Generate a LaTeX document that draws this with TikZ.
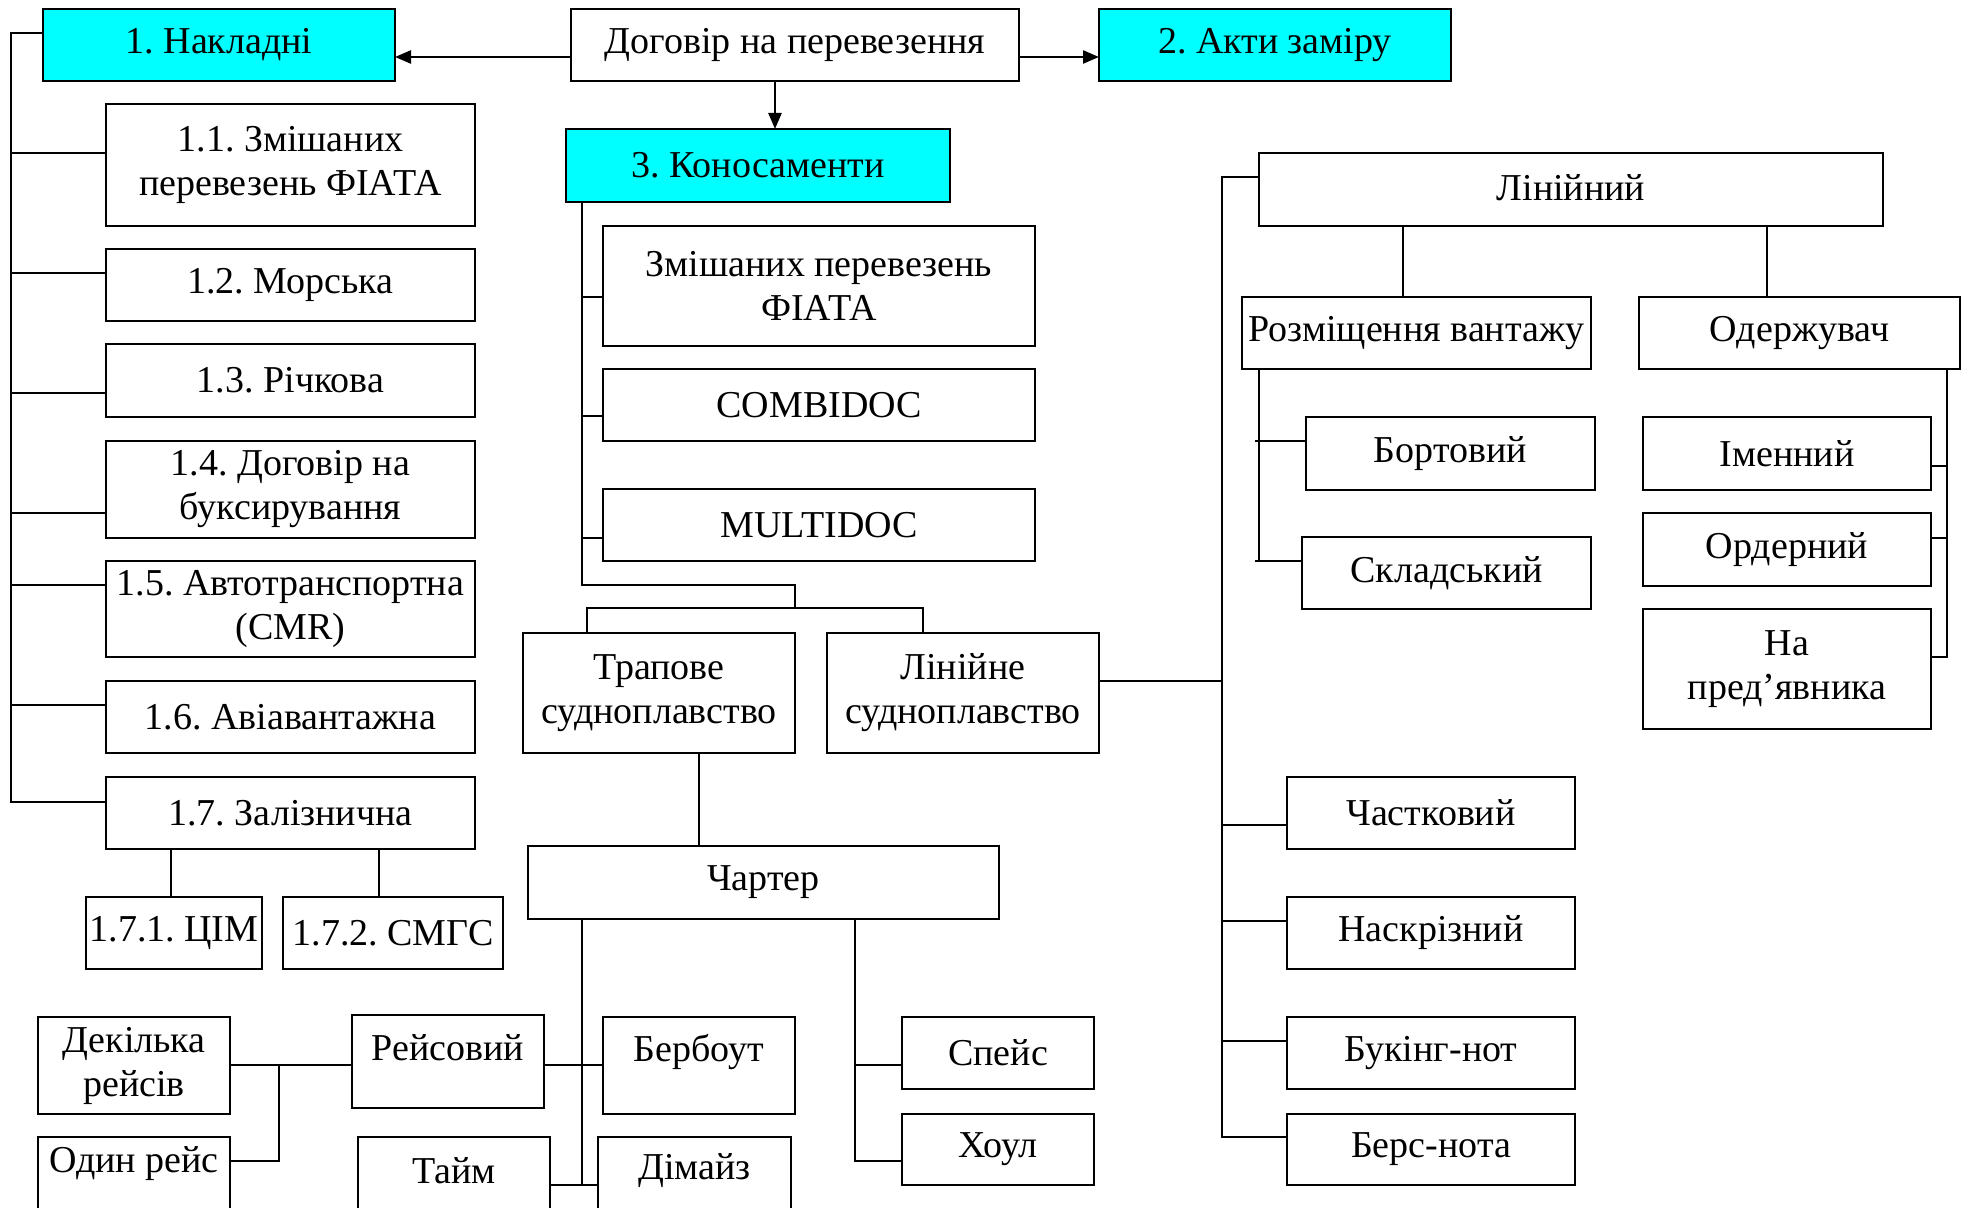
\documentclass[tikz,border=0pt]{standalone}
\usepackage{fontspec}
\setmainfont{Liberation Serif}
\usetikzlibrary{arrows.meta,calc}
\definecolor{keycyan}{RGB}{0,255,255}

% box from corner (x1,y1) to corner (x2,y2), in drawing units
\newcommand\docbox[7][]{%
  \node[box,minimum width={(#5-#3)*0.5pt},minimum height={(#6-#4)*0.5pt},#1]
    (#2) at ({(#3+#5)/2},{(#4+#6)/2}) {#7};}
% move a label up inside its box without changing the box
\newcommand\lift[2]{\raisebox{#1}[\height][\depth]{#2}}

\tikzset{
  box/.style={draw,line width=1.25pt,fill=white,inner sep=0pt,outer sep=0pt,
    align=center,font=\fontsize{19pt}{22pt}\selectfont\frenchspacing},
  keybox/.style={fill=keycyan},
  conn/.style={line width=1pt},
  arr/.style={line width=1.2pt,-{Triangle[length=8pt,width=6.5pt]}}
}

\begin{document}
\frenchspacing
\begin{tikzpicture}[x=0.5pt,y=-0.5pt]
\useasboundingbox (0,0) rectangle (1967,1208);
\clip (0,0) rectangle (1967,1208);

% top row
\docbox[keybox]{nakl}{43}{9}{395}{81}{1. Накладні}
\docbox{dog}{571}{9}{1019}{81}{Договір на перевезення}
\docbox[keybox]{akty}{1099}{9}{1451}{81}{2. Акти заміру}
\docbox[keybox]{kon}{566}{129}{950}{202}{3. Коносаменти}

% waybills
\docbox{n11}{106}{104}{475}{226}{1.1. Змішаних\\перевезень ФІАТА}
\docbox{n12}{106}{249}{475}{321}{1.2. Морська}
\docbox{n13}{106}{344}{475}{417}{1.3. Річкова}
\docbox{n14}{106}{441}{475}{538}{1.4. Договір на\\буксирування}
\docbox{n15}{106}{561}{475}{657}{1.5. Автотранспортна\\(CMR)}
\docbox{n16}{106}{681}{475}{753}{1.6. Авіавантажна}
\docbox{n17}{106}{777}{475}{849}{1.7. Залізнична}
\docbox{n171}{86}{897}{262}{969}{1.7.1. ЦІМ}
\docbox{n172}{283}{897}{503}{969}{1.7.2. СМГС}

% bills of lading
\docbox{k1}{603}{226}{1035}{346}{Змішаних перевезень\\ФІАТА}
\docbox{k2}{603}{369}{1035}{441}{COMBIDOC}
\docbox{k3}{603}{489}{1035}{561}{MULTIDOC}
\docbox{trap}{523}{633}{795}{753}{Трапове\\судноплавство}
\docbox{linS}{827}{633}{1099}{753}{Лінійне\\судноплавство}
\docbox{chart}{528}{846}{999}{919}{Чартер}

% charter kinds
\docbox{dek}{38}{1017}{230}{1114}{Декілька\\рейсів}
\docbox{odyn}{38}{1137}{230}{1230}{\lift{10pt}{Один рейс}}
\docbox{reis}{352}{1015}{544}{1108}{\lift{7pt}{Рейсовий}}
\docbox{berb}{603}{1017}{795}{1114}{\lift{7pt}{Бербоут}}
\docbox{taim}{358}{1137}{550}{1230}{\lift{6.5pt}{Тайм}}
\docbox{dim}{598}{1137}{791}{1230}{\lift{6.5pt}{Дімайз}}
\docbox{speis}{902}{1017}{1094}{1089}{Спейс}
\docbox{houl}{902}{1114}{1094}{1185}{Хоул}

% liner kinds
\docbox{lin}{1259}{153}{1883}{226}{\lift{1pt}{Лінійний}}
\docbox{rozm}{1242}{297}{1591}{369}{Розміщення вантажу}
\docbox{oderzh}{1639}{297}{1960}{369}{Одержувач}
\docbox{bort}{1306}{417}{1595}{490}{Бортовий}
\docbox{sklad}{1302}{537}{1591}{609}{Складський}
\docbox{imen}{1643}{417}{1931}{490}{Іменний}
\docbox{order}{1643}{513}{1931}{586}{Ордерний}
\docbox{pred}{1643}{609}{1931}{729}{На\\пред’явника}
\docbox{chast}{1287}{777}{1575}{849}{Частковий}
\docbox{naskr}{1287}{897}{1575}{969}{Наскрізний}
\docbox{buk}{1287}{1017}{1575}{1089}{Букінг-нот}
\docbox{bers}{1287}{1114}{1575}{1185}{Берс-нота}

% arrows from the contract
\coordinate (ay) at (0,57);
\coordinate (ax) at (775,0);
\draw[arr] (dog.west |- ay) -- (nakl.east |- ay);
\draw[arr] (dog.east |- ay) -- (akty.west |- ay);
\draw[arr] (dog.south -| ax) -- (kon.north -| ax);

% waybill bus
\coordinate (lbus) at (11,33);
\draw[conn] (nakl.west |- lbus) -- (lbus) -- (lbus |- 0,801.6) -- (n17.west |- 0,801.6);
\foreach \n/\y in {n11/153,n12/273,n13/393,n14/513,n15/585.5,n16/704.7}
  \draw[conn] (lbus |- 0,\y) -- (\n.west |- 0,\y);
\coordinate (r1) at (171,0);
\coordinate (r2) at (379,0);
\draw[conn] (n17.south -| r1) -- (n171.north -| r1);
\draw[conn] (n17.south -| r2) -- (n172.north -| r2);

% bills of lading bus
\coordinate (kbus) at (582,585.5);
\coordinate (tsplit) at (795,608.5);
\coordinate (tl) at (587,608.5);
\coordinate (tr) at (923,608.5);
\draw[conn] (kon.south -| kbus) -- (kbus) -| (tsplit);
\draw[conn] (trap.north -| tl) -- (tl) -- (tr) -- (linS.north -| tr);
\foreach \n/\y in {k1/296.6,k2/416,k3/538}
  \draw[conn] (kbus |- 0,\y) -- (\n.west |- 0,\y);

% tramp shipping to charter
\coordinate (tc) at (699,0);
\draw[conn] (trap.south -| tc) -- (chart.north -| tc);

% charter buses
\coordinate (cb1) at (582,1185);
\coordinate (cb2) at (855,1161);
\coordinate (hy) at (0,1065);
\draw[conn] (chart.south -| cb1) -- (cb1);
\draw[conn] (reis.east |- hy) -- (berb.west |- hy);
\draw[conn] (taim.east |- cb1) -- (dim.west |- cb1);
\draw[conn] (chart.south -| cb2) -- (cb2) -- (houl.west |- cb2);
\draw[conn] (cb2 |- hy) -- (speis.west |- hy);

% voyage charter options
\coordinate (dj) at (279,1065);
\draw[conn] (dek.east |- dj) -- (reis.west |- dj);
\draw[conn] (dj) -- (dj |- cb2) -- (odyn.east |- cb2);

% liner shipping bus
\coordinate (rb) at (1222,177);
\draw[conn] (lin.west |- rb) -- (rb) -- (rb |- 0,1137) -- (bers.west |- 0,1137);
\draw[conn] (linS.east |- 0,680.6) -- (rb |- 0,680.6);
\foreach \n/\y in {chast/825,naskr/921,buk/1041}
  \draw[conn] (rb |- 0,\y) -- (\n.west |- 0,\y);

% liner bill sub-kinds
\coordinate (l1) at (1403,0);
\coordinate (l2) at (1766.6,0);
\draw[conn] (lin.south -| l1) -- (rozm.north -| l1);
\draw[conn] (lin.south -| l2) -- (oderzh.north -| l2);
\coordinate (rzb) at (1259,561.4);
\coordinate (rzt) at (1255,0);
\draw[conn] (rozm.south -| rzb) -- (rzb);
\draw[conn] (rzt |- 0,441) -- (bort.west |- 0,441);
\draw[conn] (rzt |- rzb) -- (sklad.west |- rzb);
\coordinate (ob) at (1947,657);
\draw[conn] (oderzh.south -| ob) -- (ob) -- (pred.east |- ob);
\foreach \n/\y in {imen/465.7,order/537.7}
  \draw[conn] (\n.east |- 0,\y) -- (ob |- 0,\y);
\end{tikzpicture}
\end{document}
